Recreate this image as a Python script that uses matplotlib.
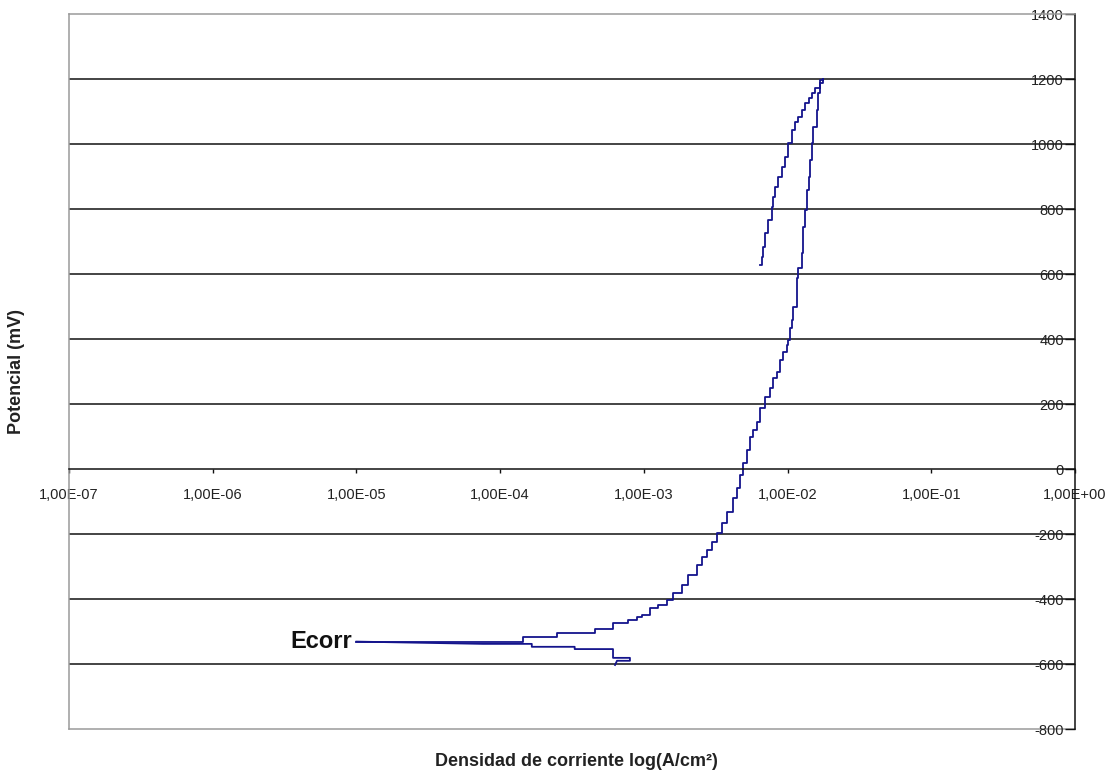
import matplotlib
matplotlib.use("Agg")
import matplotlib.pyplot as plt
from matplotlib.ticker import FixedLocator, FuncFormatter, NullLocator
import numpy as np

plt.rcParams["font.family"] = ["Liberation Sans", "DejaVu Sans"]

# rama catodica: desde el potencial mas negativo hasta Ecorr
i_cat = [6.3e-4, 6.5e-4, 8.0e-4, 8.0e-4, 6.1e-4, 6.1e-4, 3.3e-4, 3.3e-4,
         1.66e-4, 1.66e-4, 7.6e-5, 1.0e-5]
E_cat = [-603, -590, -590, -581, -581, -554, -554, -547,
         -547, -538, -538, -531]

# rama anodica (barrido directo) hasta 1200 mV
i_an = [1.0e-5, 1.44e-4, 2.5e-4, 4.6e-4, 6.1e-4, 7.8e-4, 9.0e-4, 9.7e-4,
        1.1e-3, 1.26e-3, 1.44e-3, 1.6e-3, 1.84e-3, 2.03e-3, 2.33e-3, 2.53e-3,
        2.74e-3, 2.96e-3, 3.21e-3, 3.48e-3, 3.78e-3, 4.18e-3, 4.43e-3, 4.67e-3,
        4.9e-3, 5.2e-3, 5.48e-3, 5.75e-3, 6.1e-3, 6.44e-3, 6.97e-3, 7.55e-3,
        7.93e-3, 8.41e-3, 8.87e-3, 9.31e-3, 9.86e-3, 1.01e-2, 1.04e-2, 1.07e-2,
        1.09e-2, 1.16e-2, 1.16e-2, 1.19e-2, 1.26e-2, 1.28e-2, 1.32e-2, 1.36e-2,
        1.40e-2, 1.44e-2, 1.47e-2, 1.51e-2, 1.6e-2, 1.64e-2, 1.68e-2, 1.76e-2,
        1.77e-2]
E_an = [-531, -531, -516, -506, -492, -474, -465, -454,
        -449, -428, -418, -403, -382, -357, -326, -295,
        -270, -249, -224, -197, -166, -131, -89, -58,
        -18, 18, 58, 99, 120, 146, 188, 222,
        249, 280, 299, 335, 361, 382, 397, 434,
        458, 499, 542, 588, 618, 665, 746, 797,
        858, 899, 951, 1003, 1053, 1105, 1157, 1197,
        1200]

# barrido inverso
i_rev = [1.77e-2, 1.68e-2, 1.55e-2, 1.47e-2, 1.40e-2, 1.32e-2, 1.26e-2,
         1.19e-2, 1.13e-2, 1.07e-2, 1.01e-2, 9.62e-3, 9.12e-3, 8.63e-3,
         8.18e-3, 7.96e-3, 7.76e-3, 7.35e-3, 6.97e-3, 6.79e-3, 6.6e-3, 6.44e-3]
E_rev = [1200, 1188, 1172, 1157, 1142, 1126, 1105,
         1084, 1069, 1043, 1003, 961, 930, 899,
         869, 838, 807, 766, 726, 684, 653, 628]

E_corr = -531
x_exp = np.arange(-7, 1)
y_ticks = np.arange(-800, 1401, 200)

fig = plt.figure(figsize=(11.17, 7.74), dpi=100)
ax = fig.add_axes([0.0618, 0.0581, 0.9006, 0.9238])

linea = "#14148c"
ax.plot(i_cat, E_cat, color=linea, lw=1.3)
ax.plot(i_an + i_rev[1:], E_an + E_rev[1:], color=linea, lw=1.3,
        drawstyle="steps-pre")

ax.set_xscale("log")
ax.set_xlim(1e-7, 1)
ax.set_ylim(-800, 1400)

# eje x en E = 0
ax.xaxis.set_major_locator(FixedLocator(10.0 ** x_exp))
ax.xaxis.set_minor_locator(NullLocator())
ax.xaxis.set_major_formatter(FuncFormatter(
    lambda v, p: "1,00E%+03d" % int(round(np.log10(v)))))
ax.spines["bottom"].set_position(("data", 0))
ax.spines["bottom"].set_color("#111111")
ax.spines["bottom"].set_linewidth(1.1)
ax.tick_params(axis="x", direction="out", length=3, width=1, pad=11,
               labelsize=10.5, labelcolor="#222222", color="#111111")

# eje y a la derecha, etiquetas por dentro
ax.yaxis.set_major_locator(FixedLocator(y_ticks))
ax.yaxis.set_major_formatter(FuncFormatter(lambda v, p: "%d" % v))
ax.yaxis.set_ticks_position("right")
ax.tick_params(axis="y", direction="in", length=7, width=1, pad=-8,
               labelsize=10.5, labelcolor="#222222", color="#111111")
for lbl in ax.get_yticklabels():
    lbl.set_horizontalalignment("right")

ax.grid(axis="y", color="#111111", lw=1.1)
for gl, v in zip(ax.get_ygridlines(), y_ticks):
    if v in (-800, 0, 1400):
        gl.set_visible(False)

for s in ("left", "top"):
    ax.spines[s].set_color("#9a9a9a")
    ax.spines[s].set_linewidth(1.1)
ax.spines["right"].set_color("#111111")
ax.spines["right"].set_linewidth(1.1)
ax.axhline(-800, color="#9a9a9a", lw=1.1, clip_on=False, zorder=0.5)

ax.text(9.3e-6, E_corr, "Ecorr", ha="right", va="center",
        fontsize=17, fontweight="bold", color="#111111")

fig.text(576 / 1117, 1 - 762 / 774, "Densidad de corriente log(A/cm²)",
         ha="center", va="center", fontsize=13, fontweight="bold",
         color="#222222")
fig.text(17 / 1117, 1 - 372 / 774, "Potencial (mV)", rotation=90,
         ha="center", va="center", fontsize=13, fontweight="bold",
         color="#222222")

fig.savefig("out.png", dpi=100)
